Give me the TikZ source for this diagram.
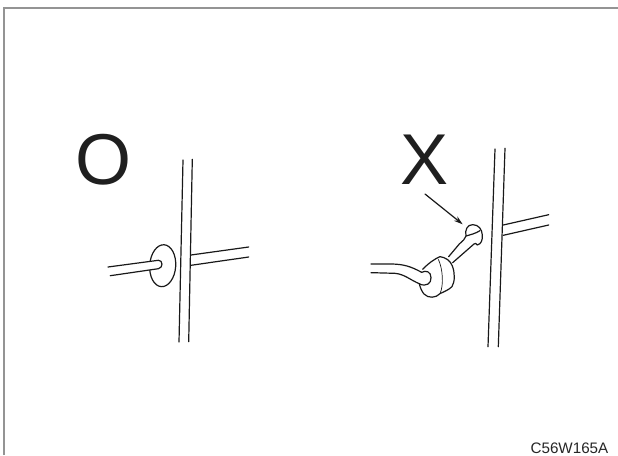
\documentclass[tikz,border=0pt]{standalone}
\usepackage{fontspec}
\setmainfont{Liberation Sans}
\usetikzlibrary{arrows.meta}
\tikzset{
  ink/.style={draw=black!90,line width=1.2pt,line cap=round,line join=round},
  frameline/.style={draw=black!42,line width=1.6pt},
  bigmark/.style={font=\fontsize{72}{72}\selectfont,inner sep=0pt,anchor=base,text=black!88},
  codelabel/.style={font=\fontsize{15.2}{15.2}\selectfont,inner sep=0pt,anchor=base east,text=black!85}
}
\begin{document}
\begin{tikzpicture}[x=1pt,y=-1pt]
\useasboundingbox (0,0) rectangle (618,455);
\fill[white] (0,0) rectangle (618,455);
\draw[frameline] (3.8,455) -- (3.8,8.2) -- (618,8.2);
\node[bigmark] (markok) at (103.5,184) {O};
\node[bigmark] (markbad) at (424.5,184) {X};
\node[codelabel] (code) at (608.5,453) {C56W165A};
% left panel
\draw[ink] (183,160) -- (179,342);
\draw[ink] (192.3,159.3) -- (188.7,341.7);
\draw[ink] (191,255) -- (248.7,247);
\draw[ink] (191,265.3) -- (248.7,257);
\draw[ink,rotate around={-4:(162.7,265.7)}] (162.7,265.7) ellipse [x radius=13,y radius=21];
\fill[white] (108,267) -- (158.3,260.3) .. controls (163,260) and (163,268) .. (158.3,268.7) -- (110.3,275.7) -- cycle;
\draw[ink] (108,267) -- (158.3,260.3) .. controls (163.2,259.8) and (163.2,268.2) .. (158.3,268.7) -- (110.3,275.7);
% right panel
\draw[ink] (495,149) -- (488,346.7);
\draw[ink] (505,148.3) -- (498.3,346.7);
\draw[ink] (503.3,225) -- (548.7,214.7);
\draw[ink] (503.3,235.3) -- (548.7,225);
\coordinate (arrowstart) at (425,194);
\coordinate (arrowend) at (462.7,224.3);
\draw[ink,-{Stealth[length=9pt,width=5.5pt]}] (arrowstart) -- (arrowend);
\begin{scope}[shift={(360,140)},x=0.3333pt,y=-0.3333pt]
  % cord to the right of the grommet, with its tip
  \draw[ink] (266,350) -- (298,312) .. controls (308,302) and (316,298) .. (318,288)
     .. controls (314,270) and (322,254) .. (338,254)
     .. controls (356,254) and (366,268) .. (367,285)
     .. controls (368,300) and (364,312) .. (352,315)
     .. controls (348,310) and (346,309) .. (342,312) -- (278,368);
  \draw[ink] (318,288) .. controls (332,284) and (348,280) .. (360,272);
  % cord to the left
  \draw[ink] (33,372) -- (95,372) .. controls (130,373) and (150,378) .. (185,397);
  \draw[ink] (33,398) -- (105,400) .. controls (135,403) and (150,420) .. (180,432);
  % grommet body, open where the cord hides it
  \draw[ink] (188,388) .. controls (205,370) and (225,356) .. (240,350)
     .. controls (256,352) and (272,362) .. (277,378)
     .. controls (285,398) and (285,425) .. (276,440)
     .. controls (266,450) and (252,455) .. (240,461)
     .. controls (228,474) and (205,476) .. (192,462)
     .. controls (186,455) and (181,444) .. (178,432);
  \draw[draw=black!90,line width=0.7pt] (235,358) .. controls (248,385) and (252,435) .. (240,461);
  % cord end in the grommet
  \draw[ink] (185,397) .. controls (198,390) and (213,395) .. (213,413)
     .. controls (214,430) and (200,441) .. (178,432);
\end{scope}
\end{tikzpicture}
\end{document}
